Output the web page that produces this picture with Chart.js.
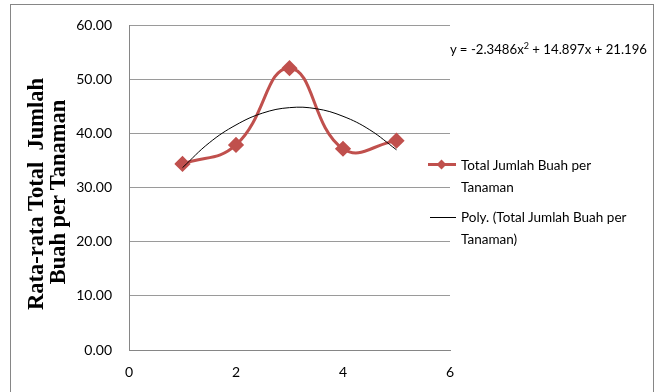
<!DOCTYPE html>
<html>
<head>
<meta charset="utf-8">
<script src="https://cdn.jsdelivr.net/npm/chart.js@4"></script>
<style>
  body { margin: 0; background: #fff; }
  #wrap { position: relative; width: 659px; height: 392px; overflow: hidden; }
  #frame { position: absolute; left: 10px; top: 4px; width: 644px; height: 400px; border: 1px solid #868686; box-sizing: border-box; }
  #chart-box { position: absolute; left: 0; top: 0; width: 659px; height: 392px; }
  .txt { position: absolute; font-family: Lato, "Open Sans", sans-serif; font-size: 13.5px; color: #000; white-space: nowrap; }
  .ytitle { position: absolute; font-family: "Liberation Serif", "DejaVu Serif", serif; font-weight: bold; font-size: 22.5px; color: #000; white-space: pre; transform: translate(-50%, -50%) rotate(-90deg); }
  .leg-line { position: absolute; height: 0; }
  .leg-mark { position: absolute; width: 7px; height: 7px; background: #C0504D; transform: rotate(45deg); }
</style>
</head>
<body>
<div id="wrap">
  <div id="frame"></div>
  <div id="chart-box"><canvas id="chartCanvas"></canvas></div>
  <div class="ytitle" style="left:36px; top:194px;">Rata-rata Total  Jumlah</div>
  <div class="ytitle" style="left:58px; top:192px;">Buah per Tanaman</div>
  <div class="txt" id="equation" style="left:450px; top:40px; font-size:13.2px;">y = -2.3486x<sup style="font-size:9px">2</sup> + 14.897x + 21.196</div>
  <div class="leg-line" style="left:428px; top:163px; width:28px; border-top:3px solid #C0504D;"></div>
  <div class="leg-mark" style="left:438px; top:161px;"></div>
  <div class="txt" style="left:461px; top:154px; line-height:22px;">Total Jumlah Buah per<br>Tanaman</div>
  <div class="leg-line" style="left:430px; top:217px; width:26px; border-top:1px solid #000;"></div>
  <div class="txt" style="left:461px; top:206px; line-height:22px;">Poly. (Total Jumlah Buah per<br>Tanaman)</div>
</div>
<script>
// observed values
const xValues = [1, 2, 3, 4, 5];
const buahValues = [34.4, 37.9, 52.1, 37.2, 38.7];

// polynomial trendline
const trendX = [1, 1.5, 2, 2.5, 3, 3.5, 4, 4.5, 5];
const trendValues = [33.7, 38.3, 41.6, 43.8, 44.8, 44.6, 43.2, 40.7, 37.0];

const yTicks = [0, 10, 20, 30, 40, 50, 60];
const xTicks = [0, 2, 4, 6];

const tickFont = { family: "Lato, 'Open Sans', sans-serif", size: 14 };

document.addEventListener("DOMContentLoaded", function () {
    const ctx = document.getElementById("chartCanvas").getContext("2d");

    window.chart = new Chart(ctx, {
        type: "scatter",
        data: {
            datasets: [{
                label: "Poly. (Total Jumlah Buah per Tanaman)",
                data: trendX.map((x, i) => ({ x: x, y: trendValues[i] })),
                showLine: true,
                borderColor: "#000",
                borderWidth: 1,
                pointRadius: 0,
                tension: 0.4,
                order: 1
            }, {
                label: "Total Jumlah Buah per Tanaman",
                data: xValues.map((x, i) => ({ x: x, y: buahValues[i] })),
                showLine: true,
                borderColor: "#C0504D",
                backgroundColor: "#C0504D",
                borderWidth: 3,
                pointStyle: "rectRot",
                pointRadius: 6,
                tension: 0.45,
                order: 2
            }]
        },
        options: {
            responsive: true,
            maintainAspectRatio: false,
            animation: false,
            layout: { padding: { top: 3, right: 209, left: 0, bottom: 0 } },
            plugins: {
                legend: { display: false },
                tooltip: { enabled: false }
            },
            scales: {
                x: {
                    type: "linear",
                    min: 0,
                    max: 6,
                    afterBuildTicks: axis => { axis.ticks = xTicks.map(v => ({ value: v })); },
                    afterFit: axis => { axis.height = 42; },
                    grid: { display: false, drawTicks: false },
                    border: { color: "#868686" },
                    ticks: { font: tickFont, color: "#000", padding: 14, maxRotation: 0 }
                },
                y: {
                    min: 0,
                    max: 60,
                    afterBuildTicks: axis => { axis.ticks = yTicks.map(v => ({ value: v })); },
                    afterFit: axis => { axis.width = 129; },
                    grid: { color: "#9a9a9a", drawTicks: false },
                    border: { color: "#868686" },
                    ticks: {
                        font: tickFont,
                        color: "#000",
                        padding: 17,
                        callback: v => v.toFixed(2)
                    }
                }
            }
        }
    });
});
</script>
</body>
</html>
